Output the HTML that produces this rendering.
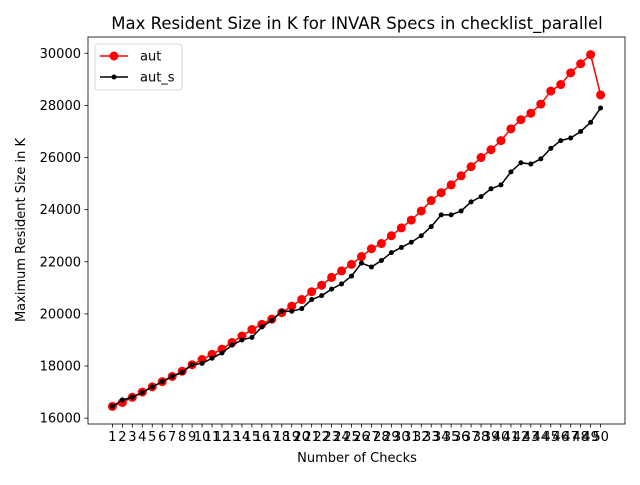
<!DOCTYPE html>
<html><head><meta charset="utf-8"><style>
body{margin:0;background:#fff;font-family:"Liberation Sans","DejaVu Sans",sans-serif}
</style></head><body>
<svg id="chart" width="640" height="480" xmlns="http://www.w3.org/2000/svg" font-family="DejaVu Sans, Liberation Sans, sans-serif">
<rect width="640" height="480" fill="#fff"/>
<text x="357" y="29" font-size="16.5" text-anchor="middle">Max Resident Size in K for INVAR Specs in checklist_parallel</text>
<text x="357" y="462" font-size="13" text-anchor="middle">Number of Checks</text>
<text x="0" y="0" font-size="13" text-anchor="middle" transform="translate(25,230) rotate(-90)">Maximum Resident Size in K</text>
<g id="plot"></g>
</svg>
<script>
const categories=[];for(let i=1;i<=50;i++)categories.push(i);
const autValues=[16450,16600,16800,17000,17200,17400,17600,17800,18050,18250,18450,18650,18900,19150,19400,19600,19800,20050,20300,20550,20850,21100,21400,21650,21900,22200,22500,22700,23000,23300,23600,23950,24350,24650,24950,25300,25650,26000,26300,26650,27100,27450,27700,28050,28550,28800,29250,29600,29950,28400];
const autSValues=[16450,16700,16800,16980,17200,17400,17600,17750,18050,18100,18300,18500,18800,19000,19100,19500,19750,20100,20100,20200,20550,20700,20950,21150,21450,21950,21800,22050,22350,22550,22750,23000,23350,23800,23800,23950,24300,24500,24800,24950,25450,25800,25750,25950,26350,26650,26750,27000,27350,27900];
const yTicks=[16000,18000,20000,22000,24000,26000,28000,30000];
const L=88,R=625,T=37,B=424;
const all=autValues.concat(autSValues);
const dmin=Math.min(...all),dmax=Math.max(...all),pad=(dmax-dmin)*0.05;
const ymin=dmin-pad,ymax=dmax+pad;
const xmin=1-49*0.05,xmax=50+49*0.05;
const xs=v=>L+(v-xmin)/(xmax-xmin)*(R-L);
const ys=v=>B-(v-ymin)/(ymax-ymin)*(B-T);
const NS='http://www.w3.org/2000/svg';
const g=document.getElementById('plot');
function mk(t,a,p){const e=document.createElementNS(NS,t);for(const k in a)e.setAttribute(k,a[k]);(p||g).appendChild(e);return e;}
yTicks.forEach(v=>{
 const y=ys(v);
 const t=mk('line',{x1:L-3.5,x2:L,y1:y,y2:y,stroke:'#000','stroke-width':0.8});
 
 
 const l=mk('text',{x:L-7,y:y+4.5,'font-size':13,'text-anchor':'end'});l.textContent=v;
 
 
});
categories.forEach(c=>{
 const x=xs(c);
 const t=mk('line',{x1:x,x2:x,y1:B,y2:B+3.5,stroke:'#000','stroke-width':0.8});
 
 
 const l=mk('text',{x:x,y:B+17,'font-size':13,'text-anchor':'middle'});l.textContent=c;
 
 
});
function series(vals,color,r,w,name){
 const p=mk('polyline',{points:vals.map((v,i)=>xs(categories[i])+','+ys(v)).join(' '),fill:'none',stroke:color,'stroke-width':w});
 
 
 vals.forEach((v,i)=>{const c=mk('circle',{cx:xs(categories[i]),cy:ys(v),r:r,fill:color});
 
 });
}
series(autValues,'#ff0000',4.5,1.5,'aut');
series(autSValues,'#000000',2.5,1.5,'aut-s');
const fr=mk('rect',{x:L,y:T,width:R-L,height:B-T,fill:'none',stroke:'#000','stroke-width':0.8});


const lg=mk('g',{});


mk('rect',{x:95,y:44,width:87,height:46,rx:3,fill:'#fff',stroke:'#ccc','stroke-width':0.8},lg);
mk('line',{x1:100,x2:128,y1:56,y2:56,stroke:'#ff0000','stroke-width':1.5},lg);
mk('circle',{cx:114,cy:56,r:4.5,fill:'#ff0000'},lg);
const t1=mk('text',{x:140,y:60.5,'font-size':13},lg);t1.textContent='aut';


mk('line',{x1:100,x2:128,y1:77,y2:77,stroke:'#000','stroke-width':1.5},lg);
mk('circle',{cx:114,cy:77,r:2.5,fill:'#000'},lg);
const t2=mk('text',{x:140,y:81.5,'font-size':13},lg);t2.textContent='aut_s';


</script>
</body></html>
